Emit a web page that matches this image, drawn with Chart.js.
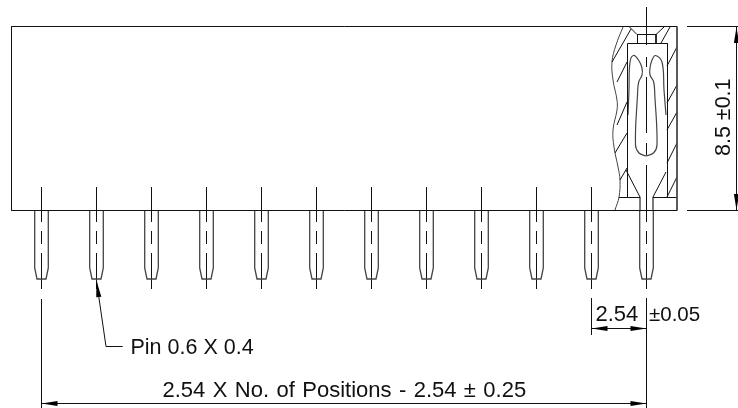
<!DOCTYPE html>
<html>
<head>
<meta charset="utf-8">
<style>
  html, body { margin: 0; padding: 0; background: #fff; }
  #drawing { display: block; }
</style>
<script src="https://cdn.jsdelivr.net/npm/chart.js@4"></script>
</head>
<body>
<canvas id="drawing" width="738" height="408"></canvas>
<script>
// all values, [x, y] in sheet units
const pinCentres = [41.5, 96.5, 151.5, 206.5, 261.5, 316.5, 371.5, 426.5, 481.5, 536.5, 591.5, 646.5];
const pinOutline = [[-6.8, 0], [-6.8, 58], [-4.5, 69], [4.5, 69], [6.8, 58], [6.8, 0]];
const pinAxisDashes = [[187, 222], [231, 244], [253, 289]];

const body = [[677, 26.5], [11.5, 26.5], [11.5, 210.5], [677, 210.5]];
const bodyEnd = [[677, 26.5], [677, 210.5]];
const housing = [[627.5, 197], [627.5, 43.5], [667.5, 43.5], [667.5, 197]];
const neck = [[629.5, 27], [637, 34.5], [656, 34.5], [664, 27]];
const neckSides = [[[637.5, 34], [637.5, 43]], [[656, 34], [656, 43]]];
const seat = [[[619, 197.5], [640, 197.5]], [[653, 197.5], [677, 197.5]]];
const seatSlopes = [[[626, 170], [640, 197]], [[666, 172], [653, 197]]];
const lastPinShank = [[[640, 197], [640, 210]], [[653, 197], [653, 210]]];
const breakLine = [[623, 27], [616, 45], [612, 62], [613, 80], [617, 100], [617, 110], [613, 130], [614, 147], [618, 167], [620, 180], [619, 197], [615, 210]];
const contactLeft = [[628, 115], [629, 90], [630, 62], [633.5, 55.5], [638.5, 60], [642, 68], [642, 75], [638.7, 82], [637.5, 95], [635.5, 145], [639, 153], [646, 156]];
const contactRight = [[666, 115], [664, 90], [662, 62], [655.5, 55.5], [652, 60], [650, 68], [650, 75], [653.7, 82], [654.8, 95], [657, 145], [653.5, 153], [646, 156]];
const hatches = [
  [[631, 29], [612, 62]], [[627, 62], [617, 82]], [[627, 102], [617, 125]],
  [[627, 133], [615, 153]], [[627, 168], [620, 180]],
  [[670, 27], [661, 43]], [[677, 47], [667, 66]], [[677, 85], [667, 103]],
  [[677, 112], [667, 130]], [[677, 143], [667, 163]], [[677, 177], [667, 197]]
];
const socketAxisDashes = [[7, 45], [57, 67], [77, 133], [143, 155], [165, 210]];
const socketAxisX = 646.5;

const dimLines = [
  [[687, 26.5], [738, 26.5]], [[687, 210.5], [738, 210.5]], [[736.5, 26], [736.5, 210]],
  [[41.5, 299], [41.5, 408]], [[646.5, 298], [646.5, 408]], [[591.5, 298], [591.5, 335]],
  [[591.5, 328.5], [646.5, 328.5]], [[41.5, 403.5], [646.5, 403.5]],
  [[96.5, 281], [106, 346.5], [122.7, 346.5]]
];
// tip, then the point the head runs back to
const arrowHeads = [
  [[736.5, 27], [736.5, 43]], [[736.5, 210], [736.5, 194]],
  [[591.5, 328.5], [607.5, 328.5]], [[646.5, 328.5], [630.5, 328.5]],
  [[41.5, 403.5], [57.5, 403.5]], [[646.5, 403.5], [630.5, 403.5]],
  [[96.5, 281], [98.8, 297]]
];

const labelTexts = ["2.54", "±0.05", "Pin 0.6 X 0.4", "2.54 X No. of Positions - 2.54 ± 0.25", "8.5 ±0.1"];
const labelAnchors = [[595.5, 321], [649, 320.5], [130.5, 353.5], [162.5, 396.5], [729.5, 156]];
const labelAngles = [0, 0, 0, 0, -90];
const labelSizes = [22, 20.5, 21.5, 22, 21.5];
const labelWordGaps = [0, 0, 0, 1.3, 0];

const INK = "#111";
const GREY = "#444";

function pts(list) {
  return list.map(([x, y]) => ({ x, y }));
}

function line(list, color, extra) {
  return Object.assign({
    type: "line",
    data: pts(list),
    borderColor: color,
    borderWidth: 1,
    pointRadius: 0,
    fill: false,
    tension: 0,
    parsing: false,
    normalized: true,
  }, extra);
}

const datasets = [];
[body, neck, housing].forEach((l) => datasets.push(line(l, INK)));
datasets.push(line(bodyEnd, GREY));
[...neckSides, ...seat, ...seatSlopes, ...hatches].forEach((l) => datasets.push(line(l, INK)));
lastPinShank.forEach((l) => datasets.push(line(l, GREY, { borderWidth: 1.4 })));
datasets.push(line(breakLine, GREY, { tension: 0.4 }));
datasets.push(line(contactLeft, GREY, { tension: 0.4, borderWidth: 1.2 }));
datasets.push(line(contactRight, GREY, { tension: 0.4, borderWidth: 1.2 }));
socketAxisDashes.forEach(([a, b]) => datasets.push(line([[socketAxisX, a], [socketAxisX, b]], INK)));
pinCentres.forEach((c) => {
  datasets.push(line(pinOutline.map(([dx, dy]) => [c + dx, 210 + dy]), GREY, { borderWidth: 1.3 }));
  pinAxisDashes.forEach(([a, b]) => datasets.push(line([[c, a], [c, b]], INK)));
});
dimLines.forEach((l) => datasets.push(line(l, INK)));

// arrowheads and the lettering go through the same scales as the lines
const annotate = {
  id: "annotate",
  afterDatasetsDraw(chart) {
    const { ctx, scales } = chart;
    const sx = (v) => scales.x.getPixelForValue(v);
    const sy = (v) => scales.y.getPixelForValue(v);

    ctx.save();
    ctx.fillStyle = "#000";
    arrowHeads.forEach(([tip, tail]) => {
      const a = Math.atan2(sy(tail[1]) - sy(tip[1]), sx(tail[0]) - sx(tip[0]));
      const nx = -Math.sin(a) * 2.6;
      const ny = Math.cos(a) * 2.6;
      ctx.beginPath();
      ctx.moveTo(sx(tip[0]), sy(tip[1]));
      ctx.lineTo(sx(tail[0]) + nx, sy(tail[1]) + ny);
      ctx.lineTo(sx(tail[0]) - nx, sy(tail[1]) - ny);
      ctx.closePath();
      ctx.fill();
    });

    ctx.fillStyle = "#111";
    ctx.textBaseline = "alphabetic";
    labelTexts.forEach((t, i) => {
      ctx.save();
      ctx.font = labelSizes[i] + "px 'Liberation Sans'";
      ctx.wordSpacing = labelWordGaps[i] + "px";
      ctx.translate(sx(labelAnchors[i][0]), sy(labelAnchors[i][1]));
      ctx.rotate((labelAngles[i] * Math.PI) / 180);
      ctx.fillText(t, 0, 0);
      ctx.restore();
    });
    ctx.restore();
  },
};

new Chart(document.getElementById("drawing").getContext("2d"), {
  type: "line",
  data: { datasets },
  options: {
    responsive: false,
    animation: false,
    layout: { padding: 0 },
    plugins: { legend: { display: false }, tooltip: { enabled: false }, title: { display: false } },
    scales: {
      x: { type: "linear", min: 0, max: 738, display: false },
      y: { type: "linear", min: 0, max: 408, reverse: true, display: false },
    },
  },
  plugins: [annotate],
});
</script>
</body>
</html>
